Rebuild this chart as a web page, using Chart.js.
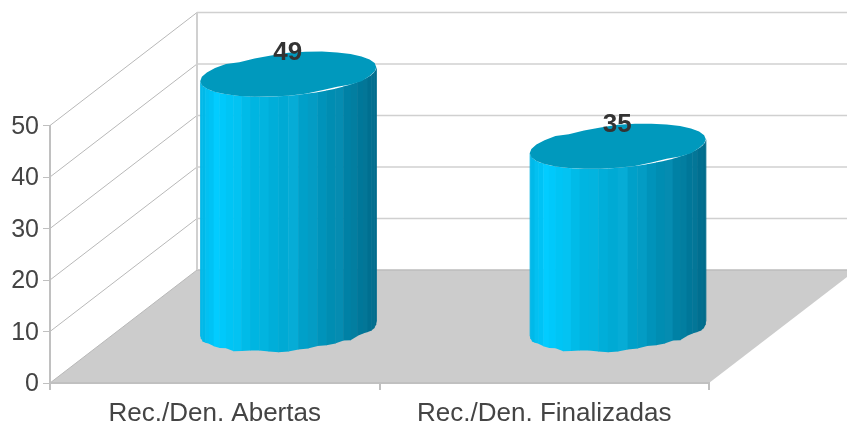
<!DOCTYPE html>
<html>
<head>
<meta charset="utf-8">
<title>Rec./Den.</title>
<script src="https://cdn.jsdelivr.net/npm/chart.js@4/dist/chart.umd.min.js"></script>
<style>
	html, body { margin: 0; background: #fff; }
	canvas { display: block; }
</style>
</head>
<body>
<canvas id="chart" width="847" height="423"></canvas>
<script>
"use strict";
const categories = ["Rec./Den. Abertas", "Rec./Den. Finalizadas"];
const values = [49, 35];
const yTicks = [0, 10, 20, 30, 40, 50];

// depth of the fake 3d box, in pixels
const depthX = 147;
const depthY = 113;
const gridColor = "#c0c0c0";
const diagColor = "#b8b8b8";
const wallColor = "#d0d0d0";
const floorColor = "#cccccc";
const topColor = "#0099bd";

// the cylinders in the reference are lumpy, these nudge the outline by a pixel or two
const lidLumps = [0, 0, 0, 1, 0, -1.5, -1, 0, 0, 0, 0, 0, 0, 0, 0, 0, 0, 0, 0, 0, 0, 2, 1.5, 1, 0, 0, 0, 0, 0, 0, 0, 0];
const baseLumps = [0, 0, 1, 0, -1, 0, 0, -1, 1, 0, -1, -1, 0, 1, 1, 0, 0, -1, 0, 0, -1, 1, -1, -1, 0, 1, 1, 0, -1];
// brightness nudge per side strip, gives the faceted look
const stripShade = [0, 3, 0, 3, 0, 2, 0, 0, 3, 0, 0, 2, 0, 0, 6, 0, 3, 0, 0, 5, 0, 2, 0, 3, 0, 2, 0, 3];

// side shading, left to right across the cylinder
const sideStops = [
	[0, [0, 180, 228]],
	[0.1, [0, 204, 255]],
	[0.3, [0, 182, 226]],
	[0.55, [0, 164, 206]],
	[0.8, [0, 134, 170]],
	[1, [0, 106, 138]],
];

const sideColor = (u, shade) => {
	for (let i = 1; i < sideStops.length; i++) {
		if (u <= sideStops[i][0]) {
			const a = sideStops[i - 1];
			const b = sideStops[i];
			const f = (u - a[0]) / (b[0] - a[0]);
			const c = a[1].map((v, k) => Math.round(v + (b[1][k] - v) * f));
			return `rgb(${c[0] + shade},${Math.min(255, c[1] + shade)},${Math.min(255, c[2] + shade)})`;
		}
	}
	return "rgb(0,106,138)";
};

const ringPoint = (cx, cy, rx, angle, lump) => ({
	x: cx + rx * Math.cos(angle),
	y: cy + 21.5 * Math.sin(angle) - 7 * Math.cos(angle) + lump,
});

const drawCylinder = (ctx, bar) => {
	const cx = bar.x + depthX / 2;
	const topY = bar.y - depthY / 2;
	// base sits a touch lower than the axis suggests
	const bottomY = bar.base - depthY / 2 + 3;
	const rx = bar.width / 2;

	const stripCount = stripShade.length;
	for (let i = 0; i < stripCount; i++) {
		const a0 = Math.PI - (i * Math.PI) / stripCount;
		const a1 = Math.PI - ((i + 1) * Math.PI) / stripCount;
		const topL = ringPoint(cx, topY, rx, a0, 0);
		const topR = ringPoint(cx, topY, rx, a1, 0);
		const lowL = ringPoint(cx, bottomY, rx, a0, baseLumps[i]);
		const lowR = ringPoint(cx, bottomY, rx, a1, baseLumps[i + 1]);
		ctx.fillStyle = sideColor(((topL.x + topR.x) / 2 - cx + rx) / (2 * rx), stripShade[i]);
		ctx.beginPath();
		ctx.moveTo(topL.x, topL.y);
		ctx.lineTo(topR.x + 0.5, topR.y);
		ctx.lineTo(lowR.x + 0.5, lowR.y);
		ctx.lineTo(lowL.x, lowL.y);
		ctx.closePath();
		ctx.fill();
	}

	// lid
	ctx.fillStyle = topColor;
	ctx.beginPath();
	lidLumps.forEach((lump, i) => {
		const p = ringPoint(cx, topY, rx, (i * 2 * Math.PI) / lidLumps.length, lump);
		if (i === 0) ctx.moveTo(p.x, p.y);
		else ctx.lineTo(p.x, p.y);
	});
	ctx.closePath();
	ctx.fill();
};

const boxPlugin = {
	id: "box",
	beforeDraw(chart) {
		const ctx = chart.ctx;
		const { x: xScale, y: yScale } = chart.scales;
		const y0 = yScale.getPixelForValue(0);
		const left = xScale.left;
		const right = xScale.right;

		ctx.save();
		ctx.fillStyle = floorColor;
		ctx.beginPath();
		ctx.moveTo(left, y0);
		ctx.lineTo(left + depthX, y0 - depthY);
		ctx.lineTo(right + depthX, y0 - depthY);
		ctx.lineTo(right, y0);
		ctx.closePath();
		ctx.fill();

		yTicks.forEach((tick) => {
			const y = yScale.getPixelForValue(tick);
			ctx.strokeStyle = diagColor;
			ctx.lineWidth = 1;
			ctx.beginPath();
			ctx.moveTo(left, y);
			ctx.lineTo(left + depthX, y - depthY);
			ctx.stroke();
			ctx.strokeStyle = tick === 0 ? "#bdbdbd" : wallColor;
			ctx.lineWidth = 1.5;
			ctx.beginPath();
			ctx.moveTo(left + depthX, y - depthY);
			ctx.lineTo(right + depthX, y - depthY);
			ctx.stroke();
		});

		// back wall edge
		ctx.strokeStyle = wallColor;
		ctx.lineWidth = 2;
		ctx.beginPath();
		ctx.moveTo(left + depthX, yScale.getPixelForValue(50) - depthY);
		ctx.lineTo(left + depthX, y0 - depthY);
		ctx.stroke();
		ctx.restore();
	},
	afterDatasetsDraw(chart) {
		const ctx = chart.ctx;
		const bars = chart.getDatasetMeta(0).data;
		ctx.save();
		bars.forEach((bar) => drawCylinder(ctx, bar));
		ctx.fillStyle = "#333333";
		ctx.font = "bold 26px 'Liberation Sans'";
		ctx.textAlign = "center";
		ctx.textBaseline = "middle";
		bars.forEach((bar, i) => {
			ctx.fillText(values[i], bar.x + depthX / 2 - 0.5, bar.y - depthY / 2 - 21);
		});
		ctx.restore();
	},
};

new Chart(document.getElementById("chart"), {
	type: "bar",
	data: {
		labels: categories,
		datasets: [
			{
				data: values,
				backgroundColor: "rgba(0,0,0,0)",
				barPercentage: 0.66,
				categoryPercentage: 0.81,
			},
		],
	},
	plugins: [boxPlugin],
	options: {
		responsive: false,
		animation: false,
		layout: { padding: { top: 125.5, right: 138, left: 0, bottom: 0 } },
		plugins: { legend: { display: false }, tooltip: { enabled: false } },
		scales: {
			x: {
				afterFit: (scale) => {
					scale.height = 40;
				},
				border: { color: gridColor, width: 2 },
				grid: { drawOnChartArea: false, color: gridColor, tickLength: 7, lineWidth: 2 },
				ticks: { color: "#444444", font: { family: "Liberation Sans", size: 26 }, padding: 8, maxRotation: 0 },
			},
			y: {
				min: 0,
				max: 50,
				afterFit: (scale) => {
					scale.width = 50;
				},
				afterBuildTicks: (scale) => {
					scale.ticks = yTicks.map((v) => ({ value: v }));
				},
				border: { color: gridColor, width: 2 },
				grid: { drawOnChartArea: false, color: gridColor, tickLength: 7, lineWidth: 1 },
				ticks: { color: "#444444", font: { family: "Liberation Sans", size: 25 }, padding: 4, labelOffset: 1.5 },
			},
		},
	},
});
</script>
</body>
</html>
